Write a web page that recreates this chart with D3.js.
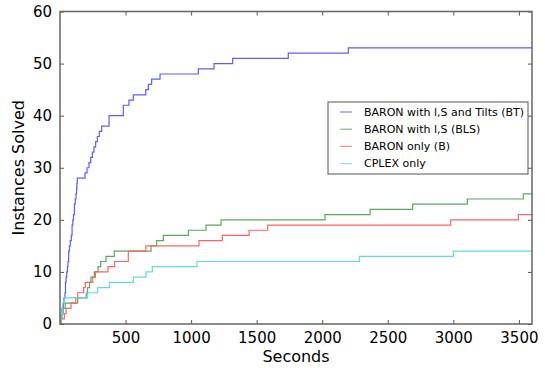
<!DOCTYPE html>
<html>
<head>
<meta charset="utf-8">
<script src="https://cdn.jsdelivr.net/npm/d3@7"></script>
<style>
  body { margin: 0; background: #fff; }
  svg { display: block; font-family: "DejaVu Sans", sans-serif; }
</style>
</head>
<body>
<script>
// step data: [seconds, instances solved]
const baronTilts = [[0,1],[8,2],[15,3],[25,4],[30,5],[38,6],[42,8],[46,9],[51,10],[57,11],[61,12],[66,14],[72,15],[78,16],[86,17],[92,19],[98,20],[103,21],[110,23],[116,24],[122,25],[126,26],[129,27],[132,28],
  [191,29],[206,30],[221,31],[234,32],[247,33],[259,34],[272,35],[285,36],[300,37],[318,38],[374,40],[483,42],[526,43],[559,44],[654,45],[674,46],[699,47],[763,48],
  [1055,49],[1175,50],[1317,51],[1741,52],[2199,53]];
const baronLS = [[0,0],[5,1],[15,2],[25,3],[40,4],[135,5],[200,6],[210,7],[225,8],[236,9],[262,10],[290,11],[310,12],[351,13],[414,14],
  [694,15],[737,16],[788,17],[979,18],[1114,19],[1228,20],[2021,21],[2365,22],[2690,23],[3107,24],[3534,25]];
const baronOnly = [[0,0],[10,1],[33,2],[46,3],[84,4],[120,5],[135,6],[180,7],[193,8],[250,9],[270,10],[366,11],[417,12],[521,14],[655,15],
  [1060,16],[1238,17],[1442,18],[1584,19],[2980,20],[3496,21]];
const cplexOnly = [[0,0],[8,2],[20,4],[30,5],[211,6],[287,7],[376,8],[559,9],[656,10],[704,11],[1045,12],[2283,13],[3000,14]];

const seriesNames = ["BARON with l,S and Tilts (BT)", "BARON with l,S (BLS)", "BARON only (B)", "CPLEX only"];
const seriesData = [baronTilts, baronLS, baronOnly, cplexOnly];
const seriesColors = ["#5c5cff", "#5aaa5a", "#ff6262", "#5ddcdc"];

const xTicks = [500, 1000, 1500, 2000, 2500, 3000, 3500];
const yTicks = [0, 10, 20, 30, 40, 50, 60];
const tMax = 3600;

const width = 545, height = 368;
const plotLeft = 60, plotRight = 532, plotTop = 11.5, plotBottom = 324;

const svg = d3.select("body").append("svg")
  .attr("width", width)
  .attr("height", height);

const x = d3.scaleLinear().domain([0, tMax]).range([plotLeft, plotRight]);
const y = d3.scaleLinear().domain([0, 60]).range([plotBottom, plotTop]);

// curves
const line = d3.line()
  .curve(d3.curveStepAfter)
  .x(d => x(d[0]))
  .y(d => y(d[1]));

svg.append("g")
  .attr("fill", "none")
  .attr("stroke-width", 1.2)
  .selectAll("path")
  .data(seriesData)
  .join("path")
  .attr("stroke", (d, i) => seriesColors[i])
  .attr("d", d => line([...d, [tMax, d[d.length - 1][1]]]));

// axes, ticks pointing inward on all four sides
const fontSize = 15;
const fmt = d3.format("d");
svg.append("g")
  .attr("transform", `translate(0,${plotBottom})`)
  .call(d3.axisBottom(x).tickValues(xTicks).tickFormat(fmt).tickSizeInner(-4).tickSizeOuter(0).tickPadding(8))
  .call(g => g.select(".domain").remove())
  .call(g => g.selectAll("text").attr("font-size", fontSize).attr("font-family", "DejaVu Sans").attr("fill", "#000"))
  .call(g => g.selectAll("line").attr("stroke", "#555"));

svg.append("g")
  .attr("transform", `translate(0,${plotTop})`)
  .call(d3.axisTop(x).tickValues(xTicks).tickSizeInner(-4).tickSizeOuter(0).tickFormat(""))
  .call(g => g.select(".domain").remove())
  .call(g => g.selectAll("line").attr("stroke", "#555"));

svg.append("g")
  .attr("transform", `translate(${plotLeft},0)`)
  .call(d3.axisLeft(y).tickValues(yTicks).tickFormat(fmt).tickSizeInner(-4).tickSizeOuter(0).tickPadding(8))
  .call(g => g.select(".domain").remove())
  .call(g => g.selectAll("text").attr("font-size", fontSize).attr("font-family", "DejaVu Sans").attr("fill", "#000"))
  .call(g => g.selectAll("line").attr("stroke", "#555"));

svg.append("g")
  .attr("transform", `translate(${plotRight},0)`)
  .call(d3.axisRight(y).tickValues(yTicks).tickSizeInner(-4).tickSizeOuter(0).tickFormat(""))
  .call(g => g.select(".domain").remove())
  .call(g => g.selectAll("line").attr("stroke", "#555"));

// frame
svg.append("rect")
  .attr("x", plotLeft)
  .attr("y", plotTop)
  .attr("width", plotRight - plotLeft)
  .attr("height", plotBottom - plotTop)
  .attr("fill", "none")
  .attr("stroke", "#666")
  .attr("stroke-width", 1.5);

// axis titles
svg.append("text")
  .attr("x", (plotLeft + plotRight) / 2)
  .attr("y", 362)
  .attr("text-anchor", "middle")
  .attr("font-size", 16)
  .text("Seconds");

svg.append("text")
  .attr("transform", `translate(24,${(plotTop + plotBottom) / 2}) rotate(-90)`)
  .attr("text-anchor", "middle")
  .attr("font-size", 16)
  .text("Instances Solved");

// legend
const legend = svg.append("g").attr("transform", "translate(328,102)");
legend.append("rect")
  .attr("width", 200)
  .attr("height", 72)
  .attr("fill", "#fff")
  .attr("stroke", "#555")
  .attr("stroke-width", 1);

const item = legend.selectAll("g")
  .data(seriesNames)
  .join("g")
  .attr("transform", (d, i) => `translate(0,${10 + i * 17.2})`);

item.append("line")
  .attr("x1", 12).attr("x2", 24)
  .attr("stroke", (d, i) => seriesColors[i])
  .attr("stroke-opacity", 0.75)
  .attr("stroke-width", 1.2);

item.append("text")
  .attr("x", 36)
  .attr("dy", "0.35em")
  .attr("font-size", 11)
  .text(d => d);
</script>
</body>
</html>
